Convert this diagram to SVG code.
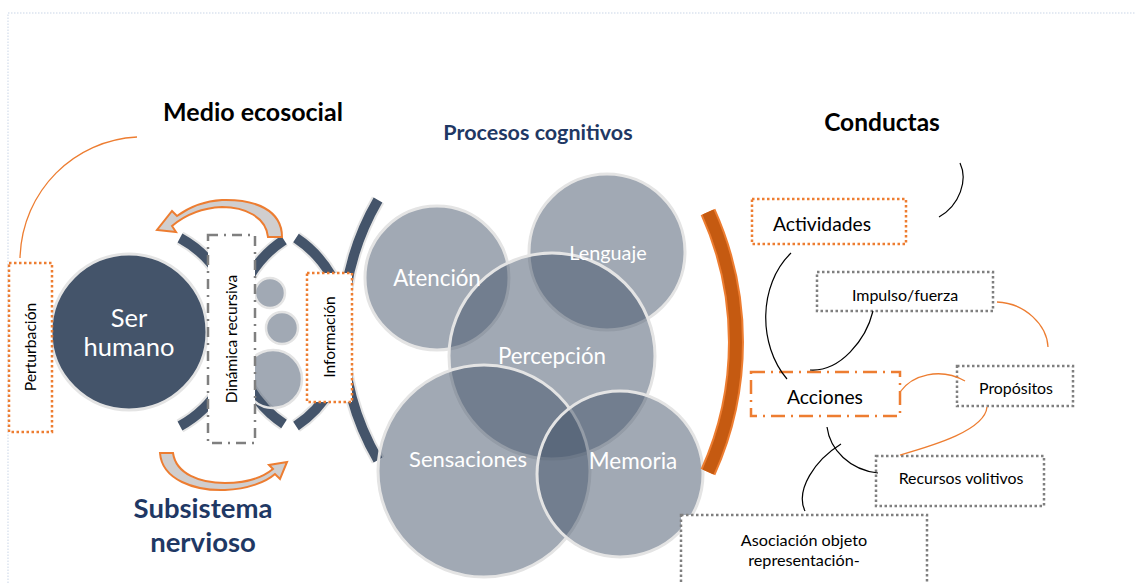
<svg xmlns="http://www.w3.org/2000/svg" width="1136" height="583" viewBox="0 0 1136 583">
<style>
text{font-family:Lato,"Noto Sans","Liberation Sans",sans-serif}
.title{font-weight:bold;fill:#000}
.navy{font-weight:bold;fill:#1F3864}
.wt{fill:#fff}
.bk{fill:#000}
.cc{fill:#44546A;fill-opacity:0.5;stroke:#E4E4E4;stroke-width:3}
.sc{fill:#44546A;fill-opacity:0.5;stroke:#E4E4E4;stroke-width:2.5}
.arcU{fill:none;stroke:#E4E4E4;stroke-width:14}
.arc{fill:none;stroke:#44546A;stroke-width:10}
.ob{fill:#fff;stroke:#ED7D31;stroke-width:2.5;stroke-dasharray:2.5 2.5}
.gb{fill:#fff;stroke:#7F7F7F;stroke-width:2.5;stroke-dasharray:2.5 2.5}
.dd{fill:#fff;stroke:#7F7F7F;stroke-width:2.5;stroke-dasharray:10 6 2 6}
.od{fill:#fff;stroke:#ED7D31;stroke-width:2.5;stroke-dasharray:14 6 2 6}
.cb{fill:none;stroke:#000;stroke-width:1.2}
.co{fill:none;stroke:#ED7D31;stroke-width:1.3}
.ca{fill:#D0CECE;stroke:#ED7D31;stroke-width:2;stroke-linejoin:miter}
</style>
<g id="page-border">
<path d="M8 583 V13 H1136" fill="none" stroke="#DCE3F0" stroke-width="1.5" stroke-dasharray="1.5 1.5"/>
</g>
<g id="titles">
<text class="title" x="253" y="121" font-size="25" text-anchor="middle">Medio ecosocial</text>
<text class="navy" x="538" y="140" font-size="21.5" text-anchor="middle">Procesos cognitivos</text>
<text class="title" x="882" y="131" font-size="24.5" text-anchor="middle">Conductas</text>
<text class="navy" x="203" y="518" font-size="27.5" text-anchor="middle">Subsistema</text>
<text class="navy" x="203" y="552" font-size="27.5" text-anchor="middle">nervioso</text>
</g>
<g id="arcs">
<path class="arcU" d="M180 238 A107 107 0 0 1 180 426"/>
<path class="arc" d="M180 238 A107 107 0 0 1 180 426"/>
<path class="arcU" d="M284 240 A110 110 0 0 0 284 424"/>
<path class="arc" d="M284 240 A110 110 0 0 0 284 424"/>
<path class="arcU" d="M296 238 A113 113 0 0 1 296 426"/>
<path class="arc" d="M296 238 A113 113 0 0 1 296 426"/>
<path class="arcU" d="M378 200 A259 259 0 0 0 378 460"/>
<path class="arc" d="M378 200 A259 259 0 0 0 378 460"/>
</g>
<g id="ser-humano">
<circle cx="129" cy="332" r="78" fill="#44546A" stroke="#E4E4E4" stroke-width="3"/>
<text class="wt" x="129" y="327" font-size="25.5" text-anchor="middle">Ser</text>
<text class="wt" x="129" y="356" font-size="25.5" text-anchor="middle">humano</text>
</g>
<g id="small-circles">
<circle class="sc" cx="270" cy="293" r="15"/>
<circle class="sc" cx="282" cy="328" r="16"/>
<circle class="sc" cx="273" cy="379" r="29"/>
</g>
<g id="perturbacion">
<rect class="ob" x="9" y="263" width="43" height="169"/>
<text class="bk" transform="translate(36 347) rotate(-90)" font-size="15.7" text-anchor="middle">Perturbación</text>
</g>
<g id="dinamica">
<rect class="dd" x="208" y="235" width="47" height="208"/>
<text class="bk" transform="translate(237 339) rotate(-90)" font-size="15.5" text-anchor="middle">Dinámica recursiva</text>
</g>
<g id="informacion">
<rect class="ob" x="307" y="273" width="45" height="129"/>
<text class="bk" transform="translate(335 337) rotate(-90)" font-size="15.5" text-anchor="middle">Información</text>
</g>
<g id="atencion">
<circle class="cc" cx="437" cy="278" r="72"/>
</g>
<g id="lenguaje">
<circle class="cc" cx="607" cy="252" r="78"/>
</g>
<g id="percepcion">
<circle class="cc" cx="552" cy="356" r="103"/>
</g>
<g id="sensaciones">
<circle class="cc" cx="484" cy="471" r="106"/>
</g>
<g id="memoria">
<circle class="cc" cx="620" cy="474" r="83"/>
</g>
<g id="cog-labels">
<text class="wt" x="437" y="286" font-size="22.3" text-anchor="middle">Atención</text>
<text class="wt" x="608" y="260" font-size="19.8" text-anchor="middle">Lenguaje</text>
<text class="wt" x="552" y="364" font-size="22.3" text-anchor="middle">Percepción</text>
<text class="wt" x="468" y="467" font-size="22" text-anchor="middle">Sensaciones</text>
<text class="wt" x="633" y="469" font-size="22.5" text-anchor="middle">Memoria</text>
</g>
<g id="orange-arc">
<path d="M708 212 A316 316 0 0 1 708 472" fill="none" stroke="#ED7D31" stroke-width="16"/>
<path d="M708 212 A316 316 0 0 1 708 472" fill="none" stroke="#C55A11" stroke-width="12"/>
</g>
<g id="actividades">
<rect class="ob" x="752" y="199" width="154" height="45"/>
<text class="bk" x="822" y="231" font-size="19.3" text-anchor="middle">Actividades</text>
</g>
<g id="impulso">
<rect class="gb" x="817" y="272" width="176" height="39"/>
<text class="bk" x="905" y="301" font-size="16" text-anchor="middle">Impulso/fuerza</text>
</g>
<g id="acciones">
<rect class="od" x="751" y="372" width="149" height="44"/>
<text class="bk" x="825" y="404" font-size="19.3" text-anchor="middle">Acciones</text>
</g>
<g id="propositos">
<rect class="gb" x="957" y="366" width="116" height="40"/>
<text class="bk" x="1016" y="394" font-size="15.9" text-anchor="middle">Propósitos</text>
</g>
<g id="recursos">
<rect class="gb" x="876" y="456" width="168" height="50"/>
<text class="bk" x="961" y="484" font-size="15.9" text-anchor="middle">Recursos volitivos</text>
</g>
<g id="asociacion">
<rect class="gb" x="681" y="515" width="246" height="80"/>
<text class="bk" x="804" y="546" font-size="16.2" text-anchor="middle">Asociación objeto</text>
<text class="bk" x="804" y="566" font-size="16.2" text-anchor="middle">representación-</text>
</g>
<g id="connectors">
<path class="ca" d="M282 237 C282 210 255 199 222 200 C203 201 188 208 177 216 L172 211 L157 230 L176 232 L172 226 C185 215 200 208 222 207 C245 207 266 217 268 237 Z"/>
<path class="ca" d="M160 453 C162 480 195 491 225 490 C248 489 266 482 275 474 L280 479 L287 462 L269 465 L273 469 C262 478 245 483 225 483 C200 483 176 474 173 453 Z"/>
<path class="co" d="M20 258 C22 190 75 140 137 137"/>
<path class="cb" d="M960 163 C968 180 960 205 939 217"/>
<path class="cb" d="M791 253 C758 285 758 345 787 379"/>
<path class="cb" d="M873 311 C866 340 840 372 810 370"/>
<path class="co" d="M997 302 C1025 303 1047 325 1048 347"/>
<path class="co" d="M900 392 C912 375 940 367 965 381"/>
<path class="co" d="M987 407 C985 430 935 445 900 455"/>
<path class="cb" d="M827 427 C830 450 850 470 878 473"/>
<path class="cb" d="M841 444 C815 460 795 490 805 511"/>
</g>
</svg>
